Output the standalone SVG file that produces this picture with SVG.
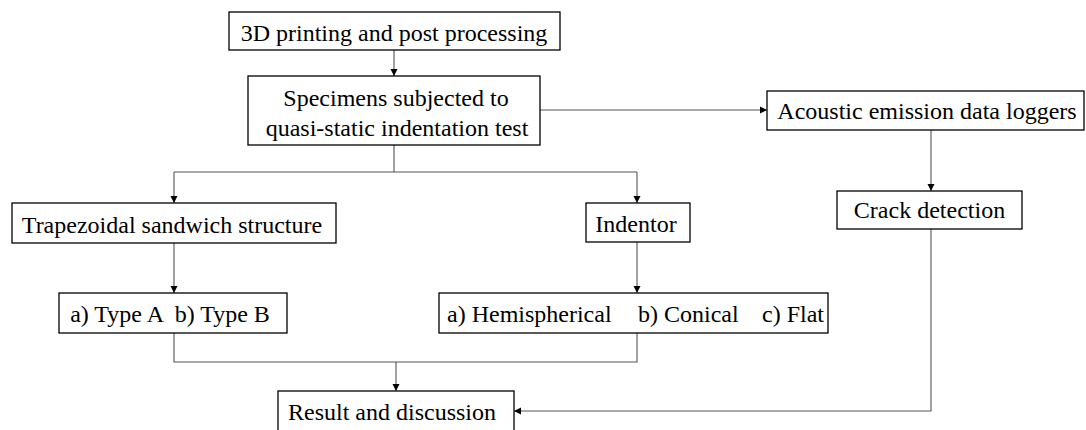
<svg xmlns="http://www.w3.org/2000/svg" width="1086" height="430" viewBox="0 0 1086 430">
<style>
.box{fill:#fff;stroke:#000;stroke-width:1.3}
.t{font-family:'Liberation Serif','Times New Roman',Times,Tinos,'DejaVu Serif',serif;font-size:24px;fill:#000;white-space:pre}
.c{text-anchor:middle}
.ln{fill:none;stroke:#555;stroke-width:1.1}
</style>
<defs>
<marker id="ah" markerWidth="8" markerHeight="8" refX="7" refY="4" orient="auto" markerUnits="userSpaceOnUse">
<path d="M0,0.5 L7,4 L0,7.5 Z" fill="#000"/>
</marker>
</defs>
<rect width="1086" height="430" fill="#fff"/>
<g id="connectors">
<path class="ln" d="M394,50 V76" marker-end="url(#ah)"/>
<path class="ln" d="M540,110 H767" marker-end="url(#ah)"/>
<path class="ln" d="M394,145 V172"/>
<path class="ln" d="M174,172 H637"/>
<path class="ln" d="M174,172 V203" marker-end="url(#ah)"/>
<path class="ln" d="M637,172 V203" marker-end="url(#ah)"/>
<path class="ln" d="M931,130 V191" marker-end="url(#ah)"/>
<path class="ln" d="M174,243 V293" marker-end="url(#ah)"/>
<path class="ln" d="M637,242 V293" marker-end="url(#ah)"/>
<path class="ln" d="M174,333 V362 H637 V333"/>
<path class="ln" d="M396,362 V391" marker-end="url(#ah)"/>
<path class="ln" d="M931,229 V411 H514" marker-end="url(#ah)"/>
</g>
<g id="n1"><rect class="box" x="229" y="12" width="331" height="38"/><text class="t c" font-family="'Liberation Serif', serif" x="394" y="41">3D printing and post processing</text></g>
<g id="n2"><rect class="box" x="248" y="76" width="292" height="69"/><text class="t c" x="396" y="106">Specimens subjected to</text><text class="t c" x="397" y="136">quasi-static indentation test</text></g>
<g id="n3"><rect class="box" x="767" y="91" width="317" height="39"/><text class="t c" x="927" y="119">Acoustic emission data loggers</text></g>
<g id="n4"><rect class="box" x="837" y="191" width="185" height="38"/><text class="t c" x="929.5" y="218">Crack detection</text></g>
<g id="n5"><rect class="box" x="12" y="203" width="324" height="40"/><text class="t c" x="172" y="233">Trapezoidal sandwich structure</text></g>
<g id="n6"><rect class="box" x="586" y="203" width="104" height="39"/><text class="t c" x="636" y="232">Indentor</text></g>
<g id="n7"><rect class="box" x="59" y="293" width="228" height="40"/><text class="t c" x="170" y="322">a) Type A  b) Type B</text></g>
<g id="n8"><rect class="box" x="439" y="293" width="389" height="40"/><text class="t" y="322"><tspan x="447">a) Hemispherical</tspan><tspan x="638">b) Conical</tspan><tspan x="762">c) Flat</tspan></text></g>
<g id="n9"><rect class="box" x="278" y="391" width="236" height="42"/><text class="t c" x="392" y="420">Result and discussion</text></g>
</svg>
